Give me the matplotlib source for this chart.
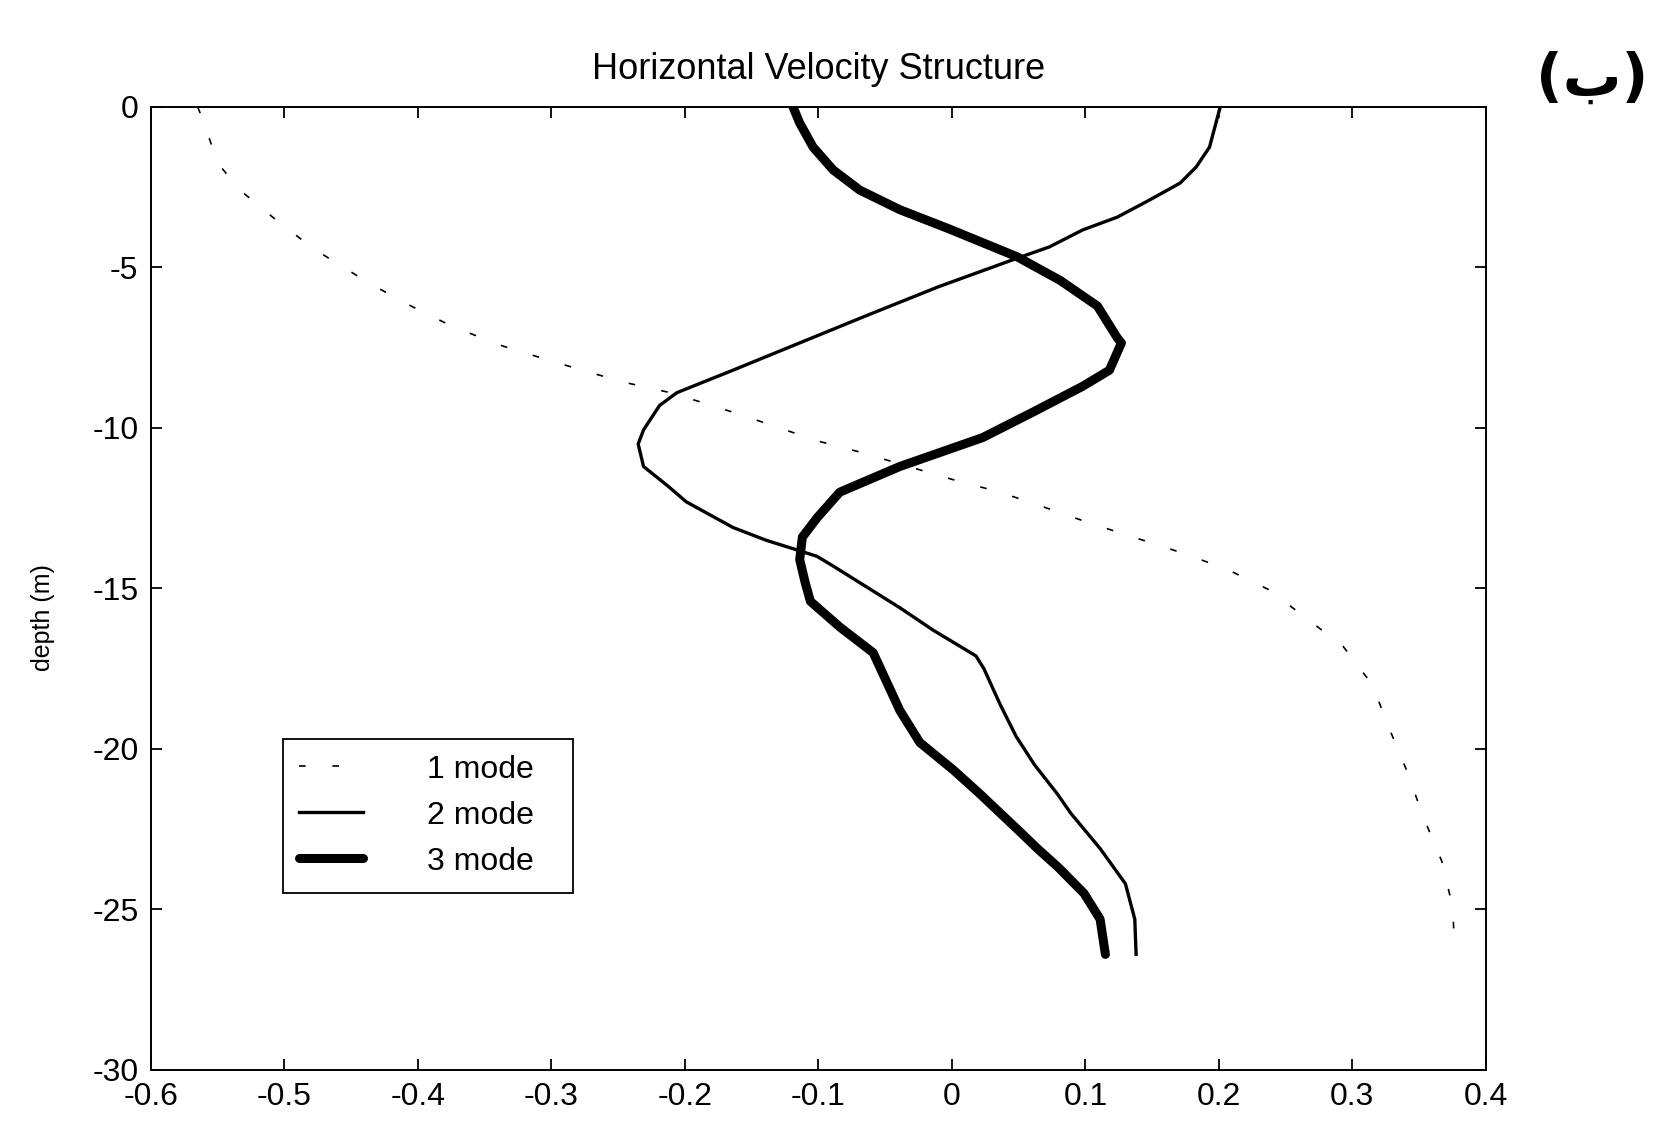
import matplotlib
matplotlib.use("Agg")
import matplotlib.pyplot as plt
import numpy as np

# mode 1 (dotted)
depth_1 = [0, -0.4, -1.75, -2.6, -3.7, -4.5, -5.45, -6.1, -6.8, -7.4, -7.8, -8.25,
           -8.6, -8.9, -9.4, -9.9, -10.4, -10.75, -11.6, -12.0, -12.45, -12.96,
           -13.4, -13.9, -14.4, -15.05, -15.85, -16.8, -18.0, -19.3, -20.7, -22.1,
           -23.5, -24.9, -26.4]
vel_1 = [-0.565, -0.561, -0.550, -0.533, -0.501, -0.475, -0.438, -0.410, -0.376,
         -0.340, -0.309, -0.273, -0.243, -0.211, -0.172, -0.136, -0.101, -0.069,
         0.0, 0.036, 0.068, 0.103, 0.136, 0.173, 0.206, 0.238, 0.263, 0.293,
         0.315, 0.327, 0.341, 0.353, 0.367, 0.375, 0.377]

# mode 2 (thin)
depth_2 = [0, -1.25, -1.87, -2.37, -2.9, -3.43, -3.83, -4.36, -4.77, -5.6, -6.5,
           -7.35, -8.2, -8.9, -9.3, -10.06, -10.5, -11.2, -11.8, -12.3, -13.1,
           -13.5, -13.8, -14.0, -14.3, -14.95, -15.6, -16.3, -17.1, -17.5, -18.6,
           -19.6, -20.5, -21.4, -22.0, -23.1, -24.2, -25.3, -26.4]
vel_2 = [0.201, 0.193, 0.183, 0.171, 0.148, 0.124, 0.098, 0.073, 0.045, -0.010,
         -0.064, -0.114, -0.164, -0.206, -0.219, -0.231, -0.235, -0.231, -0.213,
         -0.199, -0.164, -0.139, -0.116, -0.101, -0.089, -0.064, -0.039, -0.014,
         0.018, 0.024, 0.036, 0.048, 0.062, 0.079, 0.089, 0.111, 0.130, 0.137,
         0.138]

# mode 3 (thick)
depth_3 = [0, -0.5, -1.25, -1.96, -2.59, -3.2, -3.8, -4.67, -5.4, -6.2, -7.2,
           -7.35, -8.2, -8.7, -9.5, -10.3, -11.2, -12.0, -12.8, -13.4,
           -14.1, -14.8, -15.4, -16.2, -17.0, -17.9, -18.8, -19.8, -20.65, -21.4,
           -22.5, -23.1, -23.7, -24.5, -25.3, -26.4]
vel_3 = [-0.119, -0.114, -0.104, -0.089, -0.069, -0.039, -0.002, 0.049, 0.081,
         0.109, 0.124, 0.127, 0.118, 0.098, 0.061, 0.023, -0.039, -0.084,
         -0.101, -0.112, -0.114, -0.110, -0.106, -0.084, -0.059, -0.049, -0.039,
         -0.024, 0.001, 0.021, 0.049, 0.064, 0.080, 0.099, 0.111, 0.115]

labels = ["1 mode", "2 mode", "3 mode"]
x_ticks = [-0.6, -0.5, -0.4, -0.3, -0.2, -0.1, 0, 0.1, 0.2, 0.3, 0.4]
x_tick_labels = ["-0.6", "-0.5", "-0.4", "-0.3", "-0.2", "-0.1", "0", "0.1", "0.2", "0.3", "0.4"]
y_ticks = [-30, -25, -20, -15, -10, -5, 0]
y_tick_labels = ["-30", "-25", "-20", "-15", "-10", "-5", "0"]

plt.rcParams["font.family"] = ["Liberation Sans", "DejaVu Sans"]

fig = plt.figure(figsize=(16.55, 11.32), dpi=100)
ax = fig.add_axes([0.0912, 0.0548, 0.8066, 0.8507])

ax.plot(vel_1, depth_1, color="black", linewidth=1.2, dashes=(4, 16), label=labels[0])
ax.plot(vel_2, depth_2, color="black", linewidth=2.4, label=labels[1])
ax.plot(vel_3, depth_3, color="black", linewidth=6.5, solid_capstyle="round",
        solid_joinstyle="round", label=labels[2])

ax.set_xlim(-0.6, 0.4)
ax.set_ylim(-30, 0)
ax.set_xticks(x_ticks)
ax.set_xticklabels(x_tick_labels)
ax.set_yticks(y_ticks)
ax.set_yticklabels(y_tick_labels)
ax.tick_params(direction="in", length=8, width=1.3, top=True, right=True,
               labelsize=23, pad=9)
for spine in ax.spines.values():
    spine.set_linewidth(1.4)

ax.set_title("Horizontal Velocity Structure", fontsize=26, pad=20)
ax.set_ylabel("depth (m)", fontsize=18)
ax.yaxis.set_label_coords(-0.072, 0.47)

leg = ax.legend(loc="upper left", bbox_to_anchor=(0.099, 0.188, 0.217, 0.156),
                mode="expand", fontsize=23, fancybox=False, edgecolor="black",
                framealpha=1, handlelength=2.0, handletextpad=2.0, borderpad=0.5,
                labelspacing=0.5, borderaxespad=0)
leg.get_frame().set_linewidth(1.3)

fig.text(0.962, 0.93, "(\u0628)", fontsize=42, fontweight="bold",
         family="DejaVu Sans", ha="center", va="center")

fig.savefig("out.png", dpi=100)
